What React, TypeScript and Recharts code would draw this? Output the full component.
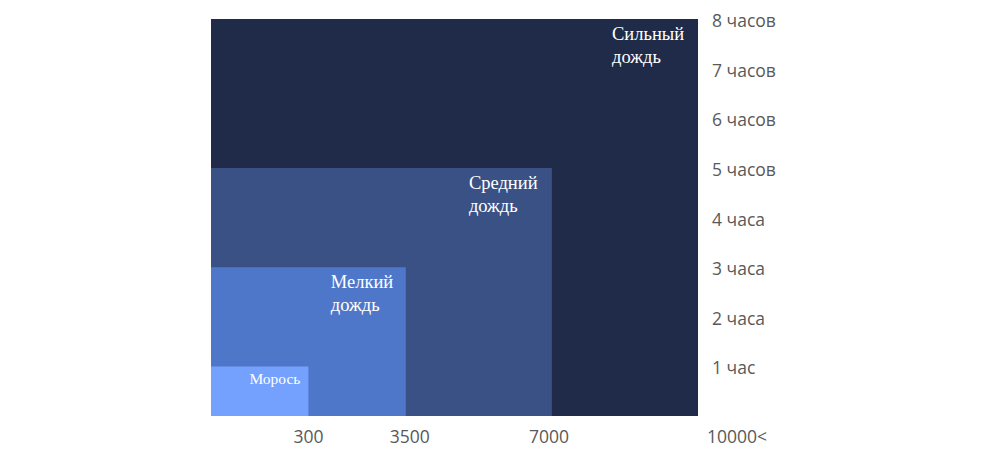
import { ComposedChart, XAxis, YAxis, ReferenceArea } from 'recharts';

// rain categories, from lightest to heaviest
const categories = ['Морось', 'Мелкий дождь', 'Средний дождь', 'Сильный дождь'];
// right edge of each block on the intensity axis (tick index scale)
const intensityEdge = [1, 2, 3.5, 5];
// duration in hours
const durationHours = [1, 3, 5, 8];

const xTicks = [1, 2, 3.5, 5];
const xTickLabels = ['300', '3500', '7000', '10000<'];
const yTicks = [1, 2, 3, 4, 5, 6, 7, 8];
const yTickLabels = ['1 час', '2 часа', '3 часа', '4 часа', '5 часов', '6 часов', '7 часов', '8 часов'];

const colors = ['#73a1fd', '#4f77c9', '#3a5185', '#1f2b48'];
const labelStyle = [
  { dx: 59, dy: 13, size: 15.5 },
  { dx: 75, dy: 16, size: 18.5 },
  { dx: 83, dy: 16, size: 18.5 },
  { dx: 86, dy: 16, size: 18.5 },
];
const xTickShift = [0, 4, -3, 39];

const AreaLabel = (props: any) => {
  const { viewBox, index } = props;
  const s = labelStyle[index];
  const words = categories[index].split(' ');
  const x = viewBox.x + viewBox.width - s.dx;
  return (
    <text x={x} y={viewBox.y + s.dy + 5} fill="#ffffff" fontFamily="'Liberation Serif', serif" fontSize={s.size}>
      {words.map((w, i) => (
        <tspan key={i} x={x} dy={i === 0 ? 0 : 23}>{w}</tspan>
      ))}
    </text>
  );
};

const XTick = (props: any) => {
  const { x, y, payload } = props;
  const i = xTicks.indexOf(payload.value);
  return (
    <text x={x + xTickShift[i]} y={y + 19} textAnchor="middle" fill="#595959" fontFamily="'Open Sans', sans-serif" fontSize={17.5}>
      {xTickLabels[i]}
    </text>
  );
};

const YTick = (props: any) => {
  const { y, payload } = props;
  return (
    <text x={712} y={y + 8} textAnchor="start" fill="#595959" fontFamily="'Open Sans', sans-serif" fontSize={17.5}>
      {yTickLabels[payload.value - 1]}
    </text>
  );
};

export default function App() {
  const order = [3, 2, 1, 0];
  return (
    <div style={{ position: 'absolute', left: 0, top: 0, background: '#ffffff' }}>
      <ComposedChart width={1000} height={470} data={[{ x: 0, y: 0 }, { x: 5, y: 8 }]} margin={{ top: 19, right: 0, bottom: 0, left: 211 }}>
        <XAxis
          dataKey="x"
          type="number"
          domain={[0, 5]}
          ticks={xTicks}
          axisLine={false}
          tickLine={false}
          height={54}
          tick={<XTick />}
        />
        <YAxis
          dataKey="y"
          type="number"
          orientation="right"
          domain={[0, 8]}
          ticks={yTicks}
          axisLine={false}
          tickLine={false}
          width={302}
          tick={<YTick />}
        />
        {order.map((i) => (
          <ReferenceArea
            key={categories[i]}
            x1={0}
            x2={intensityEdge[i]}
            y1={0}
            y2={durationHours[i]}
            fill={colors[i]}
            fillOpacity={1}
            stroke="none"
            ifOverflow="visible"
            label={<AreaLabel index={i} />}
          />
        ))}
      </ComposedChart>
    </div>
  );
}
